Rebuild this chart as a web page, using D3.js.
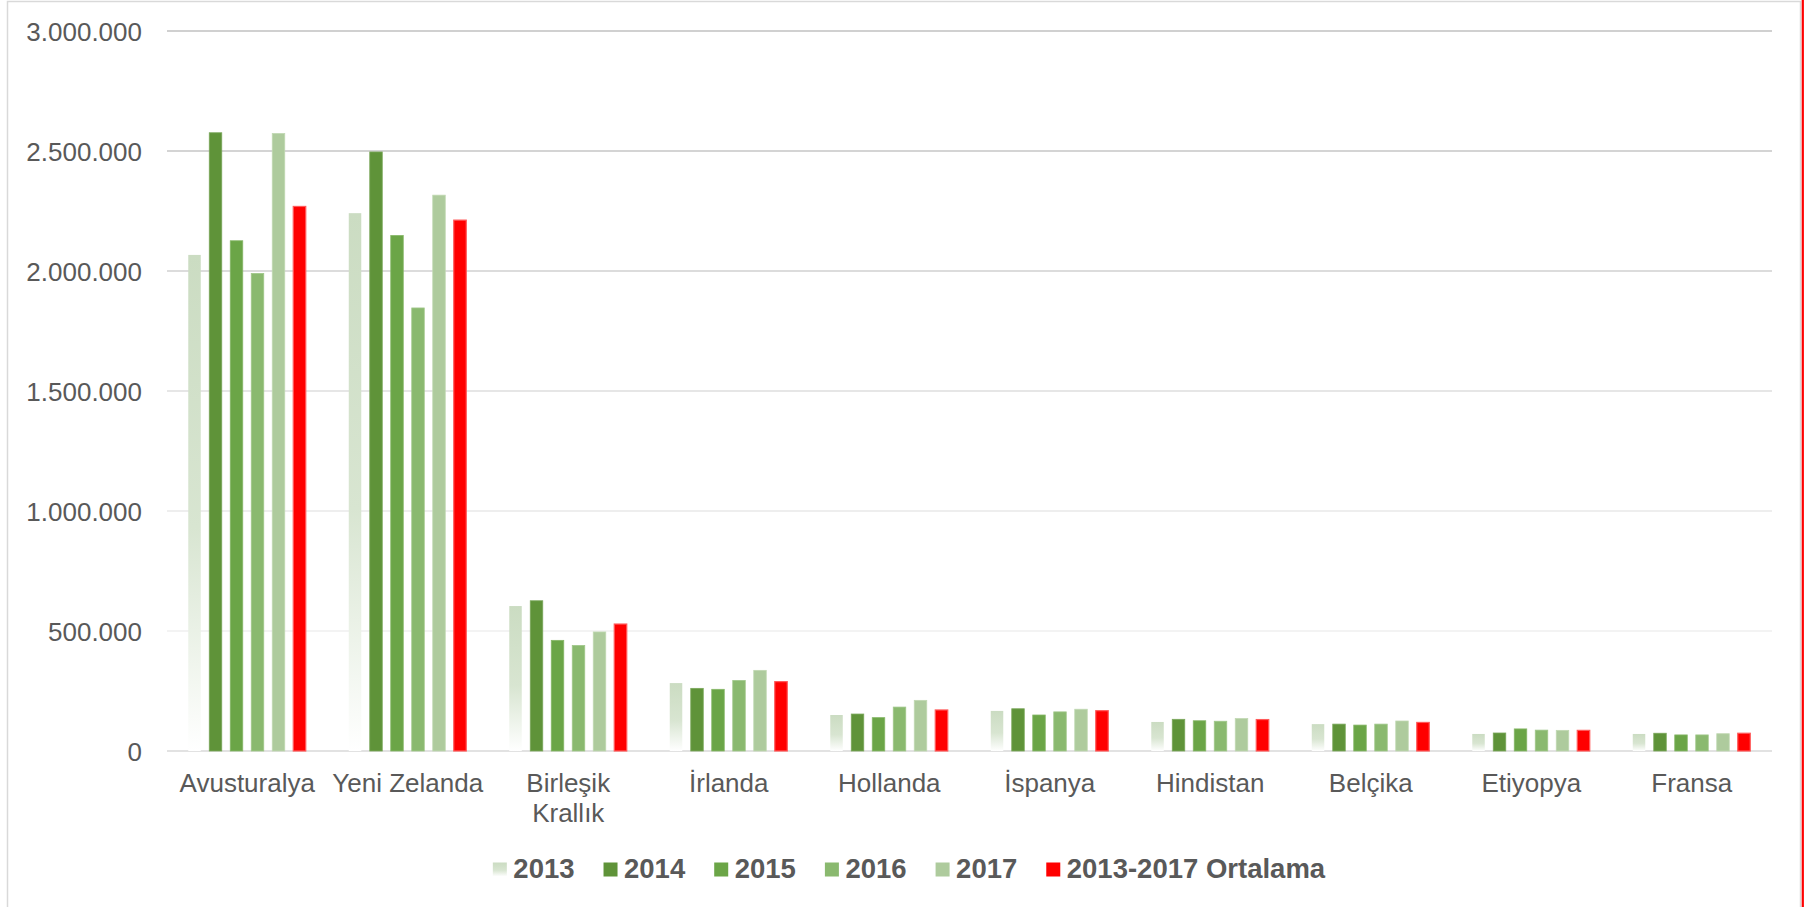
<!DOCTYPE html>
<html>
<head>
<meta charset="utf-8">
<script src="https://cdn.jsdelivr.net/npm/d3@7"></script>
<style>
  html, body { margin: 0; padding: 0; background: #ffffff; }
  svg { display: block; font-family: "Liberation Sans", Arial, sans-serif; }
</style>
</head>
<body>
<svg id="chart" width="1805" height="907"></svg>
<script>
// ---- DATA ----
const categories = ["Avusturalya", "Yeni Zelanda", "Birleşik Krallık", "İrlanda", "Hollanda",
                    "İspanya", "Hindistan", "Belçika", "Etiyopya", "Fransa"];
const seriesNames = ["2013", "2014", "2015", "2016", "2017", "2013-2017 Ortalama"];
const v2013 = [2067000, 2241000, 604000, 283000, 150000, 167000, 121000, 112000, 71000, 71000];
const v2014 = [2576000, 2496000, 626000, 261000, 154000, 176000, 132000, 112000, 75000, 74000];
const v2015 = [2126000, 2148000, 461000, 257000, 139000, 150000, 126000, 108000, 92000, 67000];
const v2016 = [1990000, 1846000, 440000, 294000, 183000, 163000, 124000, 112000, 87000, 67000];
const v2017 = [2573000, 2316000, 496000, 336000, 211000, 174000, 135000, 125000, 86000, 72000];
const vAvg  = [2269000, 2212000, 529000, 289000, 171000, 168000, 131000, 119000, 86000, 74000];
const yTicks = [0, 500000, 1000000, 1500000, 2000000, 2500000, 3000000];
const yTickLabels = ["0", "500.000", "1.000.000", "1.500.000", "2.000.000", "2.500.000", "3.000.000"];

const seriesValues = [v2013, v2014, v2015, v2016, v2017, vAvg];
const fills = ["url(#grad2013)", "#5f9339", "#6ba547", "#8ab96f", "#aecb9d", "#ff0000"];
const strokes = ["none", "#7aa75a", "#86b767", "#a0c78a", "#c0d8b2", "#ff5a5a"];
const gridColors = ["#d9d9d9", "#efefef", "#e8e8e8", "#dedede", "#d0d0d0", "#c6c6c6", "#c0c0c0"];

// ---- LAYOUT ----
const svg = d3.select("#chart");
const W = 1805, H = 907;
const plotLeft = 167, plotRight = 1772, plotTop = 31, plotBottom = 751;

const defs = svg.append("defs");
const g13 = defs.append("linearGradient").attr("id", "grad2013")
  .attr("x1", 0).attr("y1", 0).attr("x2", 0).attr("y2", 1);
g13.append("stop").attr("offset", "0%").attr("stop-color", "#cbdcc2");
g13.append("stop").attr("offset", "55%").attr("stop-color", "#d8e5d1");
g13.append("stop").attr("offset", "100%").attr("stop-color", "#ffffff");

// chart frame
svg.append("rect").attr("x", 7.5).attr("y", 1.5).attr("width", 1793).attr("height", 920)
  .attr("fill", "#ffffff").attr("stroke", "#d9d9d9").attr("stroke-width", 1.5);
svg.append("line").attr("x1", 1802.8).attr("x2", 1802.8).attr("y1", 0).attr("y2", H)
  .attr("stroke", "#ff0000").attr("stroke-width", 2.2);

const x0 = d3.scaleBand().domain(categories).range([plotLeft, plotRight]).padding(0);
const bw0 = x0.bandwidth();
const x1 = d3.scaleBand().domain(seriesNames)
  .range([bw0 * 0.1325, bw0 * 0.8645]).paddingInner(0.405).paddingOuter(0);
const y = d3.scaleLinear().domain([0, 3000000]).range([plotBottom, plotTop]);

// gridlines
const grid = svg.append("g");
grid.selectAll("line").data(yTicks).join("line")
  .attr("x1", plotLeft).attr("x2", plotRight)
  .attr("y1", d => y(d)).attr("y2", d => y(d))
  .attr("stroke", (d, i) => gridColors[i]).attr("stroke-width", 1.6);

// y axis labels
const yAxis = d3.axisLeft(y).tickValues(yTicks).tickSize(0).tickPadding(0)
  .tickFormat((d, i) => yTickLabels[i]);
const yg = svg.append("g").attr("transform", `translate(142,0)`).call(yAxis);
yg.select(".domain").remove();
yg.selectAll("text").attr("font-size", "26px").attr("fill", "#595959")
  .attr("font-family", "Liberation Sans, Arial, sans-serif").attr("dy", "0.35em");

// bars
const groups = svg.append("g").selectAll("g").data(categories).join("g")
  .attr("transform", d => `translate(${x0(d)},0)`);
groups.selectAll("rect")
  .data((c, ci) => seriesNames.map((s, si) => ({ s, si, v: seriesValues[si][ci] })))
  .join("rect")
  .attr("x", d => x1(d.s))
  .attr("width", x1.bandwidth())
  .attr("y", d => y(d.v))
  .attr("height", d => y(0) - y(d.v))
  .attr("fill", d => fills[d.si])
  .attr("stroke", d => strokes[d.si])
  .attr("stroke-width", d => d.si === 5 ? 1.2 : 0.8);

// x axis labels
const xAxis = d3.axisBottom(x0).tickSize(0).tickPadding(0);
const xg = svg.append("g").attr("transform", `translate(0,${plotBottom})`).call(xAxis);
xg.select(".domain").remove();
xg.selectAll("text").each(function(d) {
  const t = d3.select(this);
  t.text(null).attr("y", 0).attr("dy", null)
    .attr("font-size", "26px").attr("fill", "#595959")
    .attr("font-family", "Liberation Sans, Arial, sans-serif");
  let lines = [d];
  if (d === "Birleşik Krallık") lines = ["Birleşik", "Krallık"];
  lines.forEach((ln, i) => {
    t.append("tspan").attr("x", 0).attr("y", 41 + i * 29.5).text(ln);
  });
});

// legend
const legend = svg.append("g");
const items = legend.selectAll("g").data(seriesNames).join("g");
items.append("rect").attr("x", 0).attr("y", -15).attr("width", 14).attr("height", 14)
  .attr("fill", (d, i) => fills[i]);
items.append("text").attr("x", 20.5).attr("y", 0).text(d => d)
  .attr("font-size", "27.5px").attr("font-weight", "bold").attr("fill", "#595959")
  .attr("font-family", "Liberation Sans, Arial, sans-serif");
const gap = 29;
let cx = 0;
const offsets = [];
items.each(function() {
  const tw = d3.select(this).select("text").node().getComputedTextLength();
  offsets.push(cx);
  cx += 20.5 + tw + gap;
});
const totalW = cx - gap;
const startX = 909 - totalW / 2;
items.attr("transform", (d, i) => `translate(${startX + offsets[i]},877.5)`);
</script>
</body>
</html>
